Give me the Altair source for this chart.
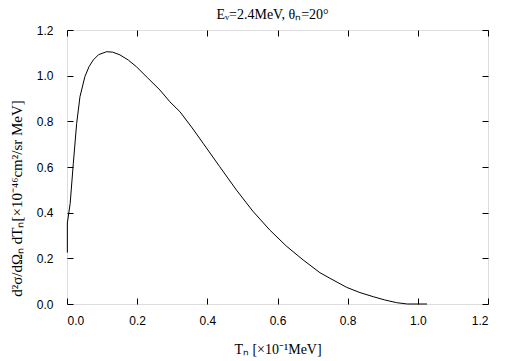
import altair as alt
import pandas as pd

# curve
tn = [0.001, 0.001, 0.009, 0.018, 0.0275, 0.037, 0.051, 0.063, 0.075, 0.09, 0.113, 0.13,
      0.151, 0.175, 0.198, 0.23, 0.265, 0.293, 0.322, 0.355, 0.388, 0.435, 0.483, 0.53,
      0.578, 0.625, 0.673, 0.721, 0.749, 0.797, 0.835, 0.873, 0.905, 0.939, 0.97, 1.026]
xs = [0.225, 0.355, 0.44, 0.616, 0.79, 0.908, 0.996, 1.04, 1.069, 1.092, 1.105, 1.103,
      1.091, 1.068, 1.039, 0.99, 0.937, 0.886, 0.842, 0.775, 0.704, 0.602, 0.499, 0.406,
      0.324, 0.254, 0.193, 0.137, 0.113, 0.073, 0.05, 0.032, 0.018, 0.006, 0.0, 0.0]

x_ticks = [0.0, 0.2, 0.4, 0.6, 0.8, 1.0, 1.2]
y_ticks = [0.0, 0.2, 0.4, 0.6, 0.8, 1.0, 1.2]

title_text = "Eᵥ=2.4MeV,   θₙ=20°"
x_title = "Tₙ [×10⁻¹MeV]"
y_title = "d²σ/dΩₙ  dTₙ[×10⁻⁴⁶cm²/sr MeV]"

df = pd.DataFrame({"t": tn, "s": xs, "i": list(range(len(tn)))})

W, H = 421, 274
xscale = alt.Scale(domain=[0, 1.2], nice=False, zero=False)
yscale = alt.Scale(domain=[0, 1.2], nice=False, zero=False)

base = alt.Chart(df)

main = base.mark_line(color="black", strokeWidth=1).encode(
    x=alt.X("t:Q", scale=xscale, axis=alt.Axis(
        values=x_ticks, format=".1f", ticks=False, labelPadding=11, title=x_title,
        titleFont="Liberation Serif", titleFontWeight="normal", titleFontSize=14,
        titlePadding=16, labelFontSize=12, labelFont="Liberation Sans",
        labelColor="black", titleColor="black", domain=False, grid=False)),
    y=alt.Y("s:Q", scale=yscale, axis=alt.Axis(
        values=y_ticks, format=".1f", ticks=False, labelPadding=14, title=y_title,
        titleFont="Liberation Serif", titleFontWeight="normal", titleFontSize=15,
        titleX=-46, titleY=168, titleBaseline="alphabetic",
        labelFontSize=12, labelFont="Liberation Sans",
        labelColor="black", titleColor="black", domain=False, grid=False)),
    order="i:Q",
)

def tick_axis(orient, off):
    return alt.Axis(values=x_ticks, orient=orient, offset=off, labels=False, title=None,
                    tickSize=6, tickColor="black", domain=False, grid=False)

def tick_axis_y(orient, off):
    return alt.Axis(values=y_ticks, orient=orient, offset=off, labels=False, title=None,
                    tickSize=6, tickColor="black", domain=False, grid=False)

ticks1 = base.mark_line(opacity=0).encode(
    x=alt.X("t:Q", scale=xscale, axis=tick_axis("top", -H)),
    y=alt.Y("s:Q", scale=yscale, axis=tick_axis_y("right", -W)),
    order="i:Q",
)
ticks2 = base.mark_line(opacity=0).encode(
    x=alt.X("t:Q", scale=xscale, axis=tick_axis("bottom", -H)),
    y=alt.Y("s:Q", scale=yscale, axis=tick_axis_y("left", -W)),
    order="i:Q",
)

chart = alt.layer(main, ticks1, ticks2).resolve_axis(
    x="independent", y="independent"
).properties(
    width=W, height=H,
    title=alt.TitleParams(title_text, font="Liberation Serif", fontSize=14,
                          fontWeight="normal", color="black", dx=-5, offset=2),
    autosize=alt.AutoSizeParams(type="none"),
    padding={"left": 59, "top": 22, "right": 9, "bottom": 55},
).configure_view(stroke="black", strokeWidth=1).configure(background="white")

chart.save("out.html", embed_options={"renderer": "svg", "actions": False})
